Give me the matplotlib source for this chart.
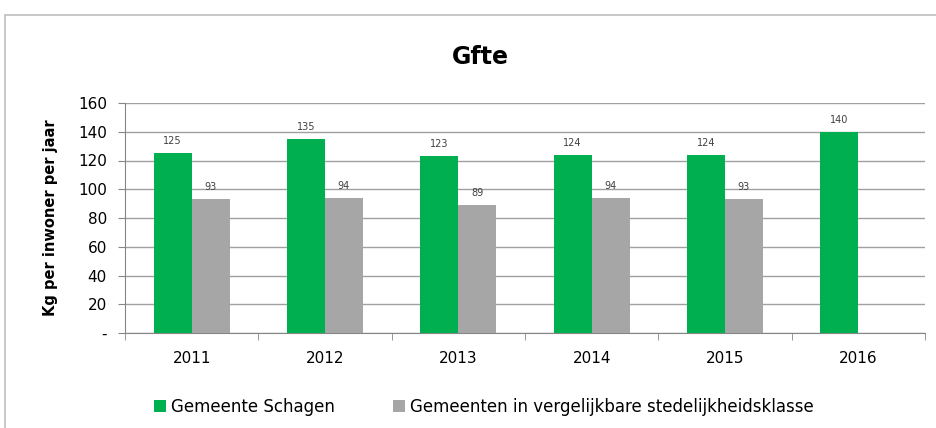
import matplotlib
matplotlib.use("Agg")
import matplotlib.pyplot as plt
import numpy as np
from matplotlib.patches import Rectangle

years = ["2011", "2012", "2013", "2014", "2015", "2016"]
schagen = [125, 135, 123, 124, 124, 140]
vergelijk = [93, 94, 89, 94, 93, None]
yticks = [0, 20, 40, 60, 80, 100, 120, 140, 160]
ytick_labels = ["-", "20", "40", "60", "80", "100", "120", "140", "160"]

green = "#00B050"
gray = "#A6A6A6"

fig = plt.figure(figsize=(9.37, 4.28), dpi=100)
fig.patch.set_facecolor("white")
# outer chart border
fig.add_artist(Rectangle((5/937, -0.05), 1.0, 1 - 15/428 + 0.05, transform=fig.transFigure,
                         fill=False, edgecolor="#BFBFBF", linewidth=1.2))

ax = fig.add_axes([125/937, 1 - 333/428, 800/937, 230/428])
x = np.arange(len(years))
w = 0.285
ax.bar(x - w/2, schagen, width=w, color=green, label="Gemeente Schagen", zorder=3)
vx = [xi + w/2 for xi, v in zip(x, vergelijk) if v is not None]
vv = [v for v in vergelijk if v is not None]
ax.bar(vx, vv, width=w, color=gray, label="Gemeenten in vergelijkbare stedelijkheidsklasse", zorder=3)

for xi, v in zip(x, schagen):
    ax.text(xi - w/2, v + 5, str(v), ha="center", va="bottom", fontsize=7, color="#404040")
for xi, v in zip(vx, vv):
    ax.text(xi, v + 5, str(v), ha="center", va="bottom", fontsize=7, color="#404040")

ax.set_xlim(-0.5, len(years) - 0.5)
ax.set_ylim(0, 160)
ax.set_yticks(yticks)
ax.set_yticklabels(ytick_labels, fontsize=11)
ax.set_xticks(x)
ax.set_xticklabels(years, fontsize=11)
ax.set_xticks(np.arange(-0.5, len(years)), minor=True)
ax.tick_params(axis="x", which="major", length=0, pad=13)
ax.tick_params(axis="x", which="minor", length=5, color="#868686")
ax.tick_params(axis="y", length=5, color="#868686", pad=8)
ax.yaxis.grid(True, color="#A0A0A0", linewidth=1)
ax.set_axisbelow(True)
for s in ["top", "right"]:
    ax.spines[s].set_visible(False)
ax.spines["left"].set_color("#868686")
ax.spines["bottom"].set_color("#868686")

ax.set_ylabel("Kg per inwoner per jaar", fontsize=10.5, fontweight="bold", labelpad=14)
fig.text(480/937, 1 - 57/428, "Gfte", ha="center", va="center", fontsize=17, fontweight="bold")

leg = fig.legend(loc="center", bbox_to_anchor=(484/937, 1 - 407/428), ncol=2, frameon=False,
                 fontsize=12, handlelength=0.7, handleheight=0.7, columnspacing=3.5, handletextpad=0.3)

fig.savefig("out.png", dpi=100, facecolor="white")
